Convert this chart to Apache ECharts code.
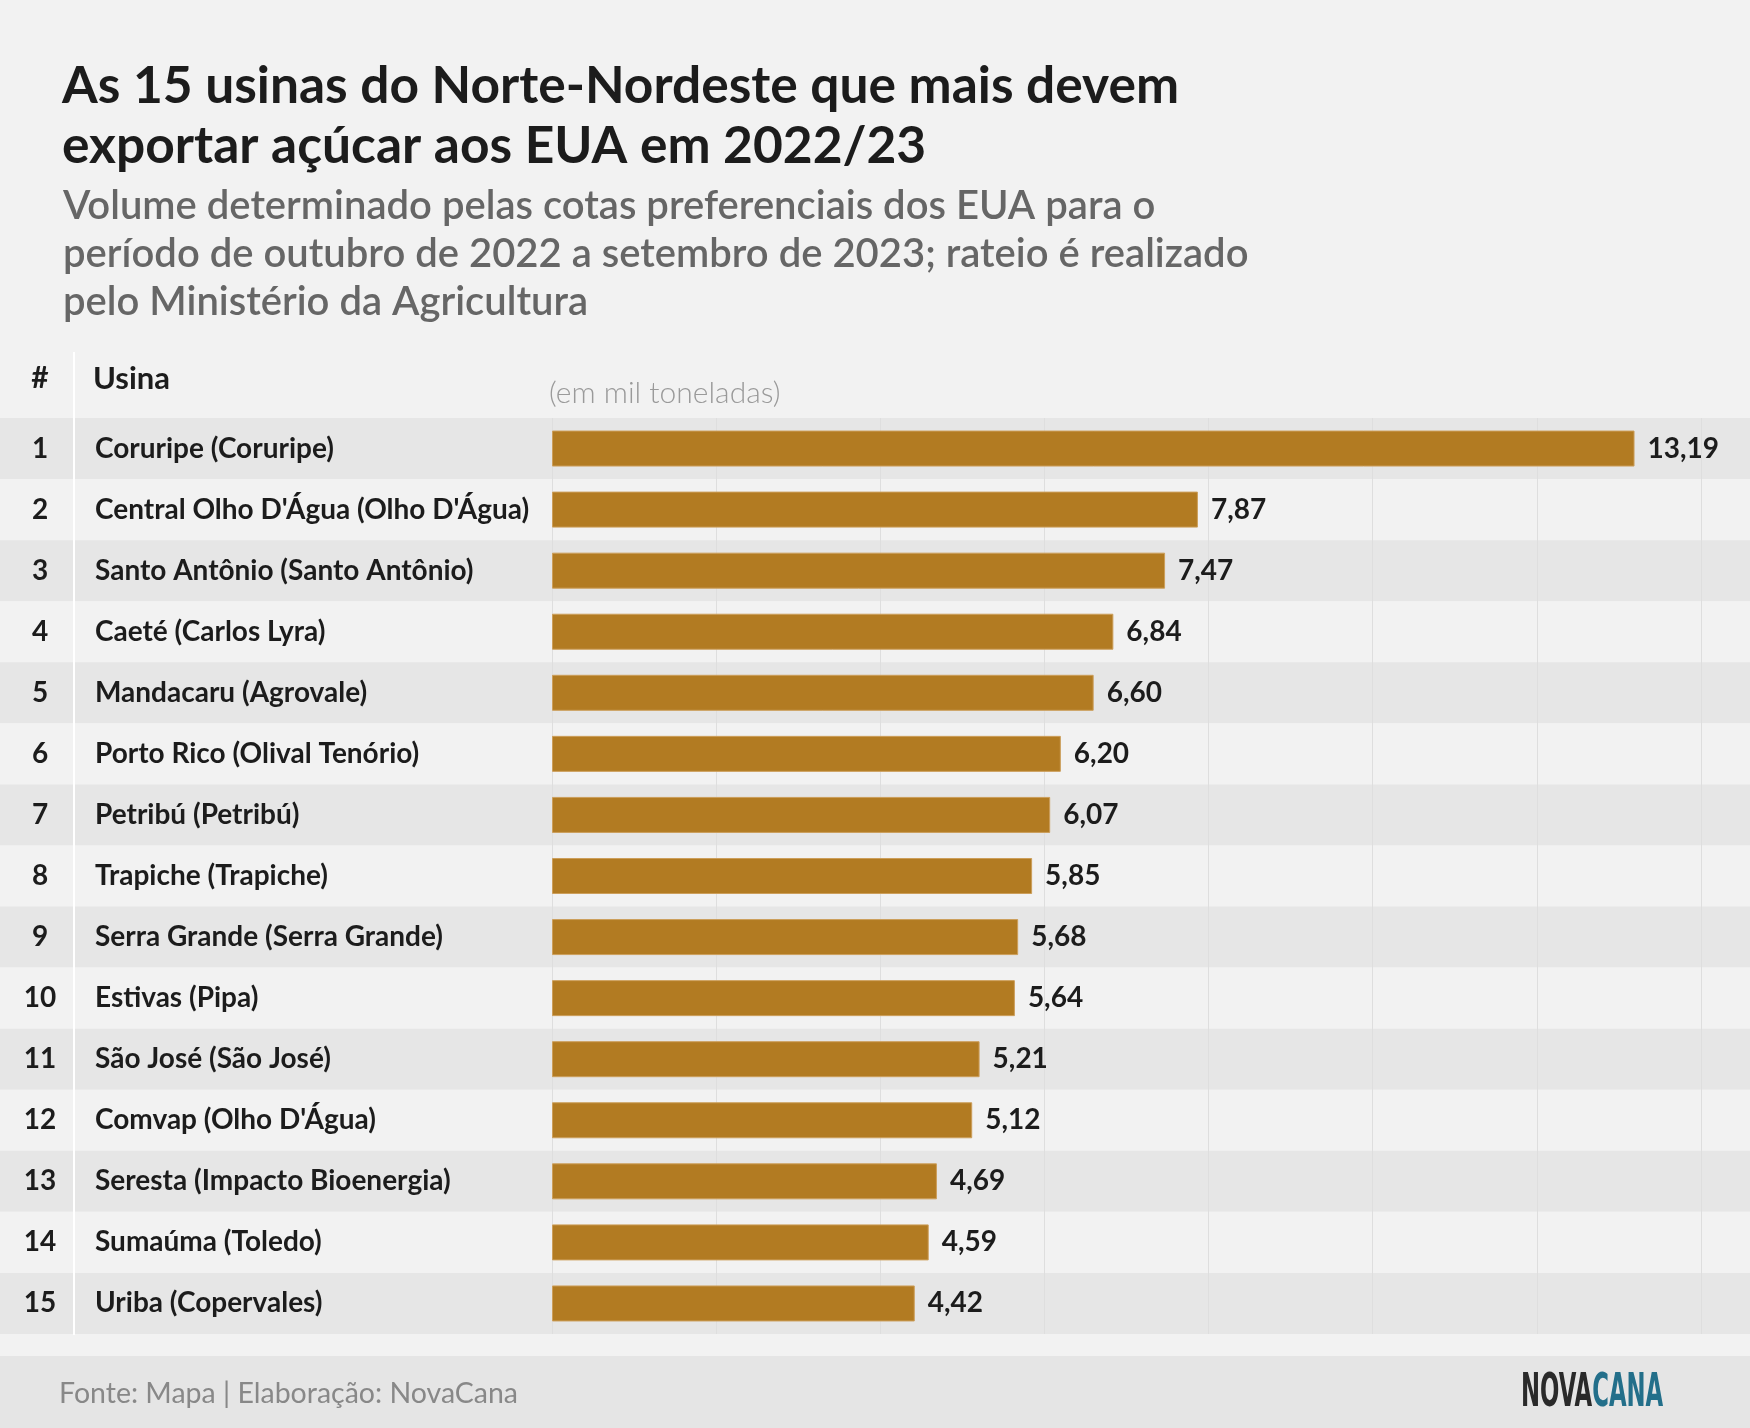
<!DOCTYPE html>
<html>
<head>
<meta charset="utf-8">
<title>Usinas Norte-Nordeste</title>
<script src="https://cdn.jsdelivr.net/npm/echarts@6/dist/echarts.min.js"></script>
<style>
  html, body { margin: 0; padding: 0; background: #f2f2f2; }
  #main { width: 1750px; height: 1428px; }
</style>
</head>
<body>
<div id="main"></div>
<script>
// data
var ranks = ['1', '2', '3', '4', '5', '6', '7', '8', '9', '10', '11', '12', '13', '14', '15'];
var usinas = [
  'Coruripe (Coruripe)',
  "Central Olho D'Água (Olho D'Água)",
  'Santo Antônio (Santo Antônio)',
  'Caeté (Carlos Lyra)',
  'Mandacaru (Agrovale)',
  'Porto Rico (Olival Tenório)',
  'Petribú (Petribú)',
  'Trapiche (Trapiche)',
  'Serra Grande (Serra Grande)',
  'Estivas (Pipa)',
  'São José (São José)',
  "Comvap (Olho D'Água)",
  'Seresta (Impacto Bioenergia)',
  'Sumaúma (Toledo)',
  'Uriba (Copervales)'
];
var volumes = [13.19, 7.87, 7.47, 6.84, 6.60, 6.20, 6.07, 5.85, 5.68, 5.64, 5.21, 5.12, 4.69, 4.59, 4.42];

var titleText = 'As 15 usinas do Norte-Nordeste que mais devem\nexportar açúcar aos EUA em 2022/23';
var subtitleText = 'Volume determinado pelas cotas preferenciais dos EUA para o\n' +
  'período de outubro de 2022 a setembro de 2023; rateio é realizado\n' +
  'pelo Ministério da Agricultura';
var sourceText = 'Fonte: Mapa | Elaboração: NovaCana';

var FONT = 'Lato, "Noto Sans", sans-serif';
var LOGO_FONT = '"DejaVu Sans Condensed", "Liberation Sans Narrow", sans-serif';
var ROW_TOP = 418;
var ROW_H = 916;

var chart = echarts.init(document.getElementById('main'), null, { renderer: 'canvas' });

function formatValue(v) {
  return v.toFixed(2).replace('.', ',');
}

var option = {
  backgroundColor: '#f2f2f2',
  animation: false,
  title: [
    {
      text: titleText,
      left: 57,
      top: 51,
      textStyle: { fontFamily: FONT, fontSize: 51.5, fontWeight: 'bold', color: '#1c1c1c', lineHeight: 60 }
    },
    {
      text: subtitleText,
      left: 58,
      top: 177,
      textStyle: { fontFamily: FONT, fontSize: 40, fontWeight: 600, color: '#666666', lineHeight: 48 }
    }
  ],
  grid: [
    // full-width grid: row bands and rank numbers
    { left: 0, right: 0, top: ROW_TOP, height: ROW_H },
    // bar grid
    { left: 552, right: 49, top: ROW_TOP, height: ROW_H }
  ],
  xAxis: [
    { gridIndex: 0, type: 'value', show: false, min: 0, max: 1 },
    {
      gridIndex: 1,
      type: 'value',
      min: 0,
      max: 14,
      interval: 2,
      axisLine: { show: false },
      axisTick: { show: false },
      axisLabel: { show: false },
      splitLine: { show: true, lineStyle: { color: '#dedede', width: 1 } }
    }
  ],
  yAxis: [
    {
      gridIndex: 0,
      type: 'category',
      inverse: true,
      data: ranks,
      axisLine: { show: false },
      axisTick: { show: false },
      splitLine: { show: false },
      splitArea: { show: true, areaStyle: { color: ['#e6e6e6', '#f2f2f2'] } },
      axisLabel: {
        inside: true,
        margin: 40,
        align: 'center',
        fontFamily: FONT,
        fontSize: 28,
        fontWeight: 'bold',
        color: '#1c1c1c'
      }
    },
    {
      gridIndex: 1,
      type: 'category',
      inverse: true,
      data: usinas,
      axisLine: { show: false },
      axisTick: { show: false },
      axisLabel: {
        margin: 457,
        align: 'left',
        fontFamily: FONT,
        fontSize: 28,
        fontWeight: 'bold',
        color: '#1c1c1c'
      }
    }
  ],
  series: [
    {
      type: 'bar',
      xAxisIndex: 1,
      yAxisIndex: 1,
      data: volumes,
      barWidth: 36,
      itemStyle: { color: '#b27b22', borderColor: '#cc9e5a', borderWidth: 1 },
      label: {
        show: true,
        position: 'right',
        distance: 13,
        fontFamily: FONT,
        fontSize: 28,
        fontWeight: 'bold',
        color: '#1c1c1c',
        formatter: function (p) { return formatValue(p.value); }
      }
    }
  ],
  graphic: [
    {
      type: 'rect',
      shape: { x: 73, y: 352, width: 2, height: 1335 - 352 },
      style: { fill: '#ffffff' },
      z: 10
    },
    {
      type: 'text',
      x: 40, y: 378,
      style: { text: '#', fontFamily: FONT, fontSize: 30, fontWeight: 'bold', fill: '#1c1c1c', align: 'center', verticalAlign: 'middle' }
    },
    {
      type: 'text',
      x: 93, y: 379,
      style: { text: 'Usina', fontFamily: FONT, fontSize: 31, fontWeight: 'bold', fill: '#1c1c1c', align: 'left', verticalAlign: 'middle' }
    },
    {
      type: 'text',
      x: 549, y: 393,
      style: { text: '(em mil toneladas)', fontFamily: FONT, fontSize: 30, fontWeight: 300, fill: '#9a9a9a', align: 'left', verticalAlign: 'middle' }
    },
    {
      type: 'rect',
      shape: { x: 0, y: 1356, width: 1750, height: 72 },
      style: { fill: '#e5e5e5' }
    },
    {
      type: 'text',
      x: 59, y: 1394,
      style: { text: sourceText, fontFamily: FONT, fontSize: 28.5, fill: '#888888', align: 'left', verticalAlign: 'middle' }
    },
    {
      type: 'text',
      x: 1521, y: 1394,
      scaleX: 0.55,
      style: {
        text: '{a|NOVA}{b|CANA}',
        rich: {
          a: { fontFamily: LOGO_FONT, fontSize: 46, fontWeight: 'bold', fill: '#2a2a2a' },
          b: { fontFamily: LOGO_FONT, fontSize: 46, fontWeight: 'bold', fill: '#236f8a' }
        },
        align: 'left',
        verticalAlign: 'middle'
      }
    }
  ]
};

chart.setOption(option);

window.addEventListener('resize', function () {
  chart.resize();
});
</script>
</body>
</html>
